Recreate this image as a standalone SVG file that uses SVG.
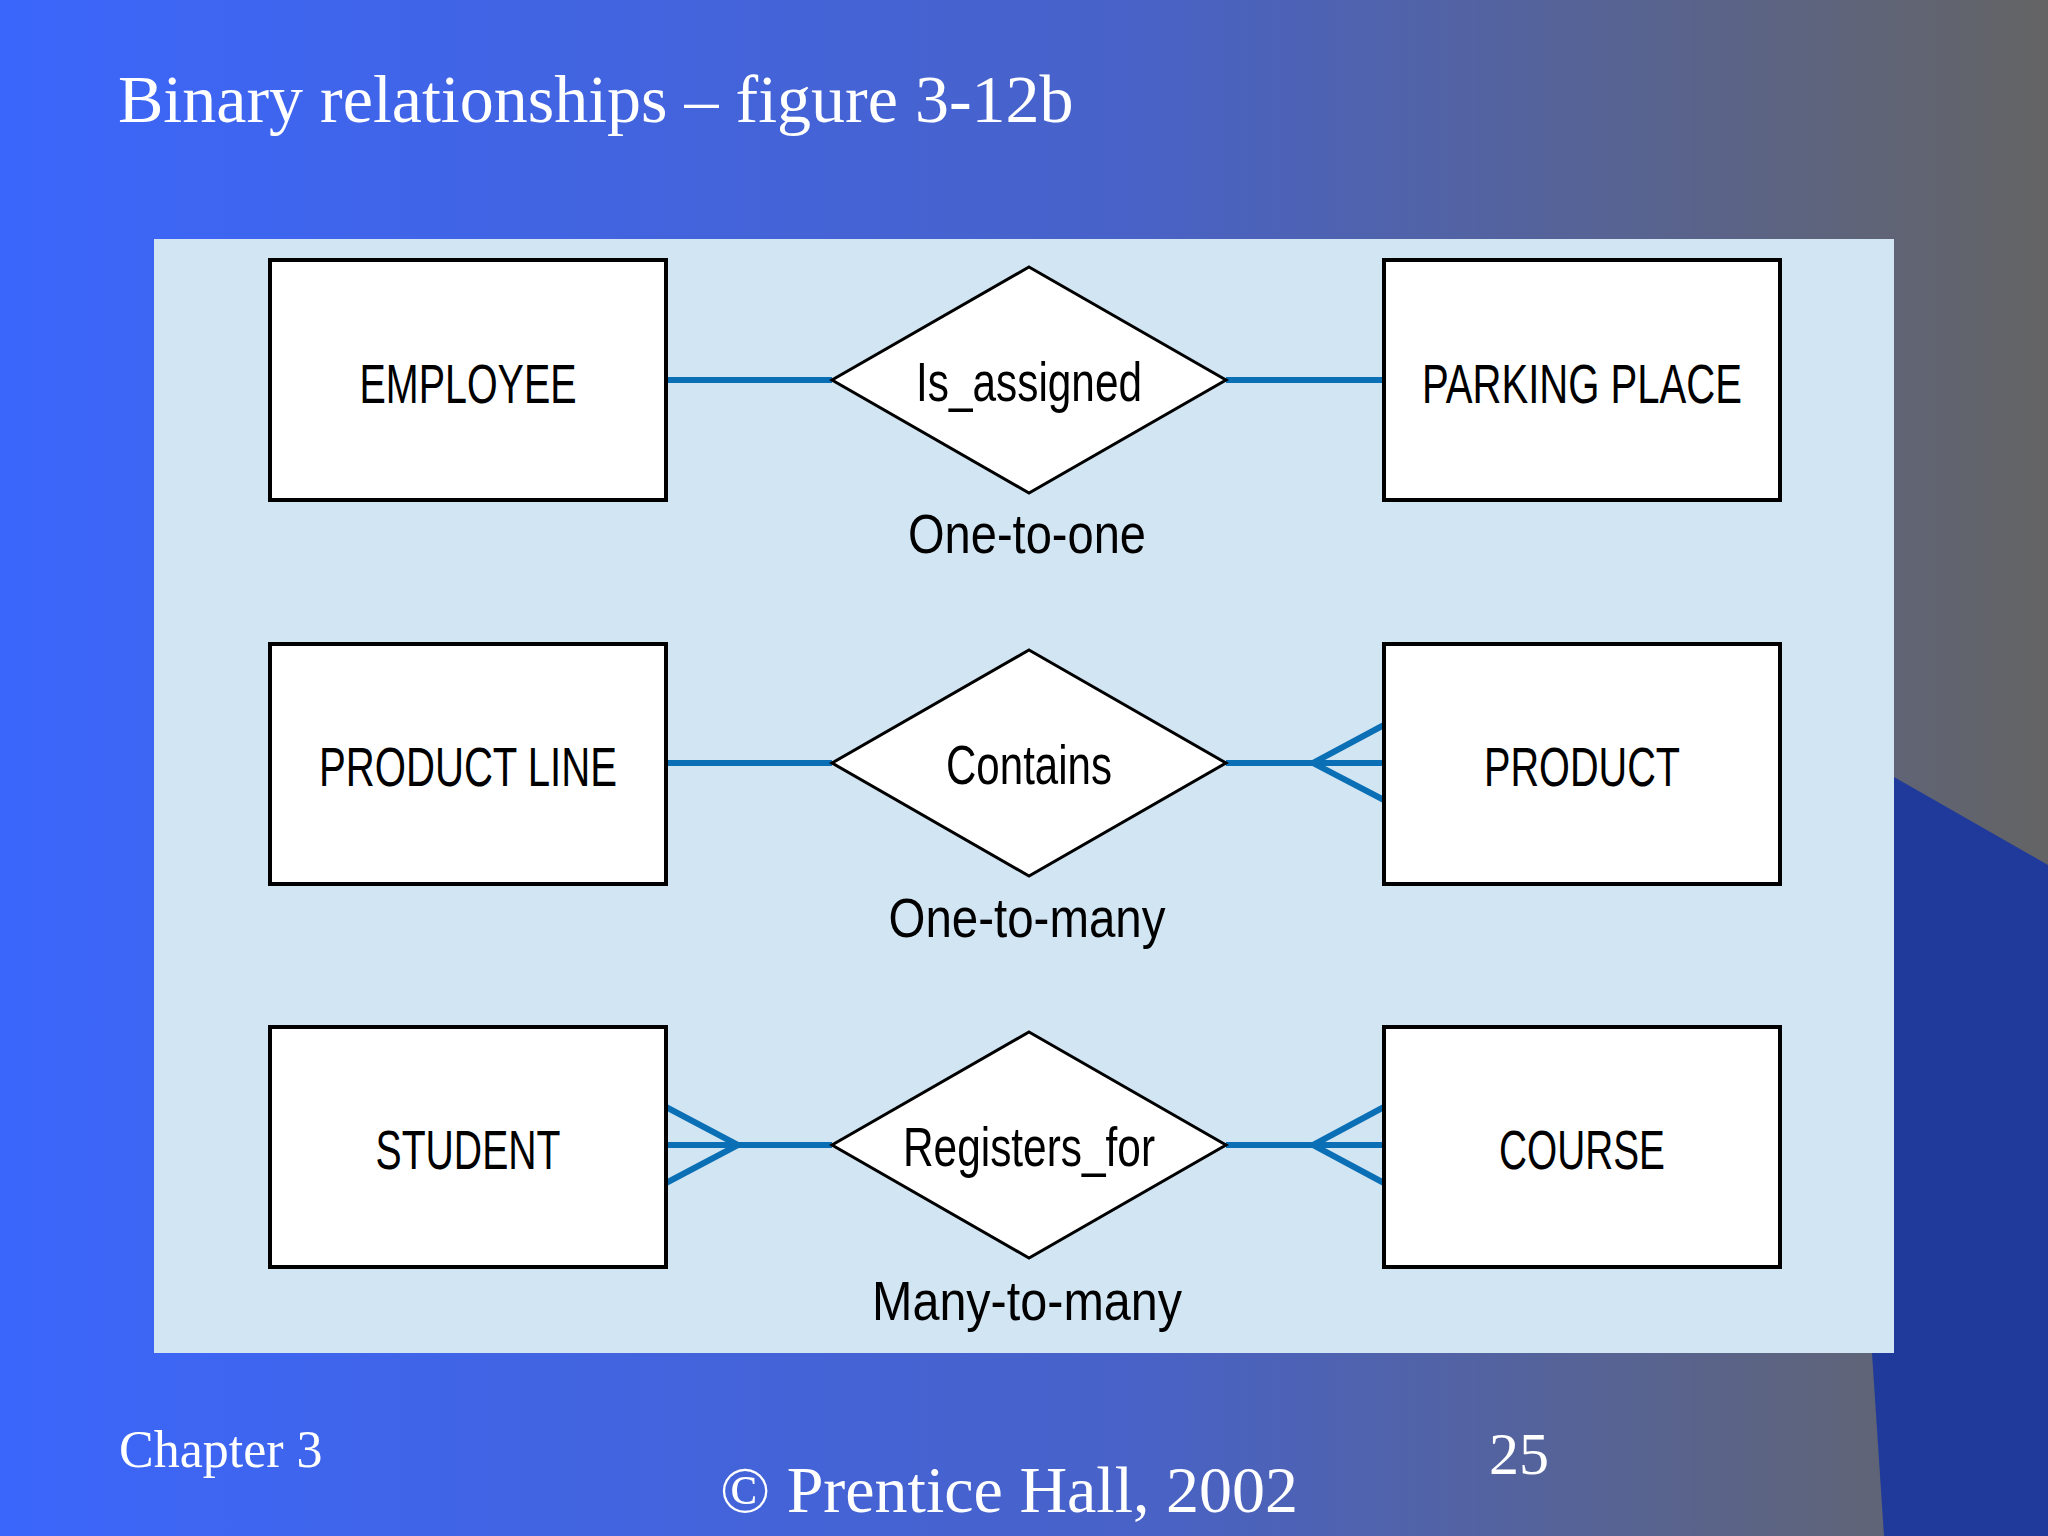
<svg xmlns="http://www.w3.org/2000/svg" width="2048" height="1536" viewBox="0 0 2048 1536">
<defs>
<linearGradient id="bg" x1="0" y1="0" x2="1" y2="0">
<stop offset="0" stop-color="#3b66fb"/><stop offset="0.55" stop-color="#4862c8"/><stop offset="1" stop-color="#646464"/>
</linearGradient>
<style>
.box{fill:#fff;stroke:#000;stroke-width:4}
.dia{fill:#fff;stroke:#000;stroke-width:3}
.t{font-family:"Liberation Sans",Arial,sans-serif;font-size:56px;fill:#000;text-anchor:middle}
.c{stroke:#0a6fb5;stroke-width:6;fill:none}
.s{font-family:"Liberation Serif","Times New Roman",serif;fill:#fff}
</style>
</defs>
<rect width="2048" height="1536" fill="url(#bg)"/>
<path d="M1894 777 L2048 865 L2048 1536 L1884 1536 L1872 1353 Z" fill="#1f3a9a"/>
<text class="s" x="118" y="122" font-size="68">Binary relationships – figure 3-12b</text>
<rect x="154" y="239" width="1740" height="1114" fill="#d2e5f3"/>
<g id="connectors">
<line class="c" x1="666" y1="380" x2="832" y2="380"/><line class="c" x1="1226" y1="380" x2="1384" y2="380"/>
<line class="c" x1="666" y1="763" x2="832" y2="763"/><line class="c" x1="1226" y1="763" x2="1384" y2="763"/>
<path class="c" d="M1384 725 L1313 763 L1384 800"/>
<line class="c" x1="666" y1="1145" x2="832" y2="1145"/><line class="c" x1="1226" y1="1145" x2="1384" y2="1145"/>
<path class="c" d="M666 1107 L738 1145 L666 1183"/>
<path class="c" d="M1384 1107 L1313 1145 L1384 1183"/>
</g>
<g id="employee"><rect class="box" x="270" y="260" width="396" height="240"/><text class="t" x="468" y="403" textLength="217" lengthAdjust="spacingAndGlyphs">EMPLOYEE</text></g>
<g id="parking"><rect class="box" x="1384" y="260" width="396" height="240"/><text class="t" x="1582" y="403" textLength="320" lengthAdjust="spacingAndGlyphs">PARKING PLACE</text></g>
<g id="is_assigned"><polygon class="dia" points="1029,267 1226,380 1029,493 832,380"/><text class="t" x="1029" y="401" textLength="226" lengthAdjust="spacingAndGlyphs">Is_assigned</text></g>
<text class="t" x="1027" y="553" textLength="238" lengthAdjust="spacingAndGlyphs">One-to-one</text>
<g id="productline"><rect class="box" x="270" y="644" width="396" height="240"/><text class="t" x="468" y="786" textLength="298" lengthAdjust="spacingAndGlyphs">PRODUCT LINE</text></g>
<g id="product"><rect class="box" x="1384" y="644" width="396" height="240"/><text class="t" x="1582" y="786" textLength="196" lengthAdjust="spacingAndGlyphs">PRODUCT</text></g>
<g id="contains"><polygon class="dia" points="1029,650 1226,763 1029,876 832,763"/><text class="t" x="1029" y="784" textLength="166" lengthAdjust="spacingAndGlyphs">Contains</text></g>
<text class="t" x="1027" y="937" textLength="277" lengthAdjust="spacingAndGlyphs">One-to-many</text>
<g id="student"><rect class="box" x="270" y="1027" width="396" height="240"/><text class="t" x="468" y="1169" textLength="185" lengthAdjust="spacingAndGlyphs">STUDENT</text></g>
<g id="course"><rect class="box" x="1384" y="1027" width="396" height="240"/><text class="t" x="1582" y="1169" textLength="166" lengthAdjust="spacingAndGlyphs">COURSE</text></g>
<g id="registers"><polygon class="dia" points="1029,1032 1226,1145 1029,1258 832,1145"/><text class="t" x="1029" y="1166" textLength="252" lengthAdjust="spacingAndGlyphs">Registers_for</text></g>
<text class="t" x="1027" y="1320" textLength="310" lengthAdjust="spacingAndGlyphs">Many-to-many</text>
<text class="s" x="119" y="1467" font-size="52">Chapter 3</text>
<text class="s" x="1489" y="1474" font-size="60">25</text>
<text class="s" x="720" y="1512" font-size="66">© Prentice Hall, 2002</text>
</svg>
